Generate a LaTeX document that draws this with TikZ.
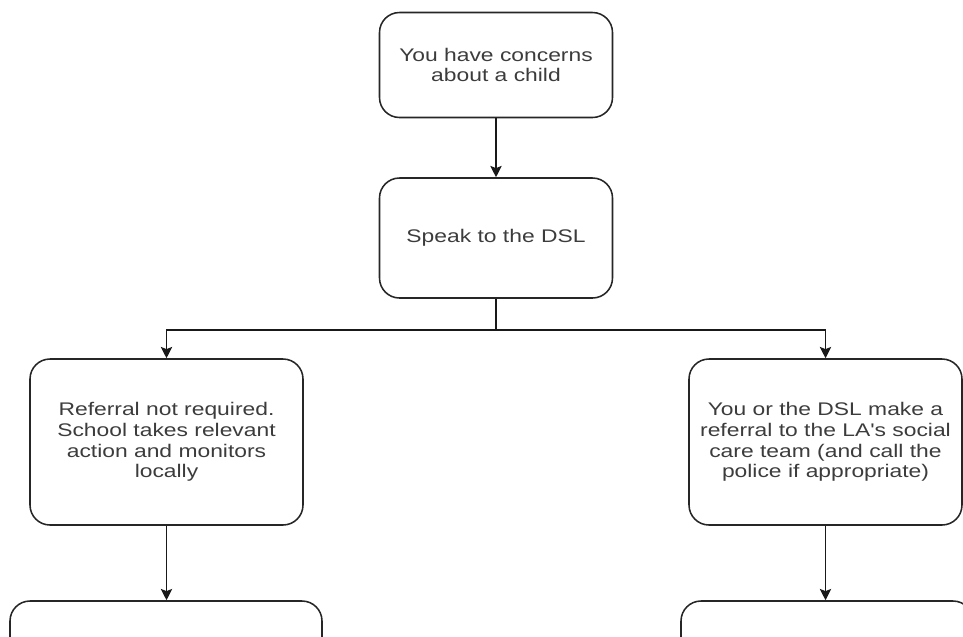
\documentclass[tikz,border=0pt]{standalone}
\usepackage{fontspec}
\setmainfont{Liberation Sans}
\newfontfamily\flowfont[FakeStretch=1.25]{Liberation Sans}
\usetikzlibrary{arrows.meta}
\definecolor{txtgrey}{HTML}{3C3C3C}
\tikzset{
  stepbox/.style={draw=black!85, line width=1.1pt, rounded corners=0.5cm,
    align=center, text=txtgrey, inner sep=0pt,
    font=\flowfont\fontsize{13}{14.8}\selectfont},
  flow/.style={-{Stealth[length=8pt,width=8pt,inset=1.5pt]}, line width=1.1pt, black!90},
}
\begin{document}
\begin{tikzpicture}
\useasboundingbox (0,0) rectangle (24.075,-15.9);
\clip (0,0) rectangle (24.075,-15.9);
% boxes
\node[stepbox, minimum width=5.825cm, minimum height=2.625cm] (concern) at (12.4,-1.625) {You have concerns\\about a child};
\node[stepbox, minimum width=5.825cm, minimum height=3cm] (dsl) at (12.4,-5.95) {Speak to the DSL};
\node[stepbox, minimum width=6.825cm, minimum height=4.15cm] (local) at (4.1625,-11.05) {Referral not required.\\School takes relevant\\action and monitors\\locally};
\node[stepbox, minimum width=6.825cm, minimum height=4.15cm] (referral) at (20.6375,-11.05) {You or the DSL make a\\referral to the LA's social\\care team (and call the\\police if appropriate)};
\node[stepbox, minimum width=7.8cm, minimum height=4cm] (localnext) at (4.15,-17.025) {};
\node[stepbox, minimum width=7.3cm, minimum height=4cm] (referralnext) at (20.675,-17.025) {};
% connectors
\coordinate (split) at (12.4,-8.25);
\draw[flow] (concern.south) -- (dsl.north);
\draw[line width=1.1pt, black!90] (dsl.south) -- (split);
\draw[flow] (split) -| (local.north);
\draw[flow] (split) -| (referral.north);
\draw[flow] (local.south) -- (local.south |- localnext.north);
\draw[flow] (referral.south) -- (referral.south |- referralnext.north);
\end{tikzpicture}
\end{document}
